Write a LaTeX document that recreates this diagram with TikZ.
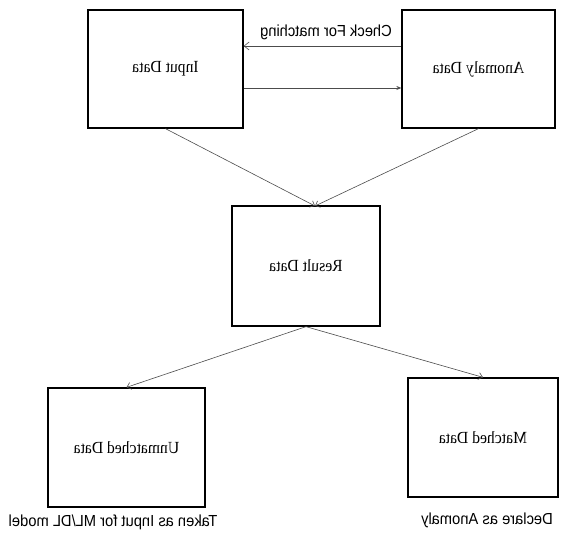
\documentclass[tikz,border=0pt]{standalone}
\usepackage{fontspec}
\usepackage{graphicx}
\setmainfont{Liberation Serif}
\setsansfont{Liberation Sans}
\usetikzlibrary{arrows.meta}
\tikzset{
  box/.style={draw=black, line width=1.3pt, minimum width=#1, inner sep=0pt},
  box/.default=150pt,
  conn/.style={draw=black!70, line width=0.6pt},
  lbl/.style={font=\fontsize{17}{19}\selectfont},
  note/.style={font=\sffamily\fontsize{16}{18}\selectfont, inner sep=0pt},
}
\newcommand{\mir}[1]{\scalebox{-0.92}[1]{#1}}
\newcommand{\mirn}[1]{\scalebox{-0.92}[1]{#1}}
\begin{document}
\begin{tikzpicture}[x=1pt, y=-1pt]
\useasboundingbox (0,0) rectangle (563,534);
\node[box=155pt, minimum height=118pt, lbl] (input) at (165.5,69) {\mir{Input Data}};
\node[box=153pt, minimum height=118pt, lbl] (anom) at (478.5,69) {\mir{Anomaly Data}};
\node[box=148pt, minimum height=120pt, lbl] (result) at (306,266) {\mir{Result Data}};
\node[box=157pt, minimum height=119pt, lbl] (unm) at (126.5,447.5) {\mir{Unmatched Data}};
\node[box=150pt, minimum height=119pt, lbl] (mat) at (483,437.5) {\mir{Matched Data}};
\coordinate (rtop) at (315,206);
\draw[conn, -{Straight Barb[length=5pt,width=8pt]}] (anom.west |- 0,46) -- (input.east |- 0,46);
\draw[conn, -{Stealth[length=5pt,width=4pt]}] (input.east |- 0,88) -- (anom.west |- 0,88);
\draw[conn, -{Straight Barb[length=4pt,width=7pt]}] (input.south) -- (rtop);
\draw[conn, -{Straight Barb[length=4pt,width=7pt]}] (anom.south) -- (rtop);
\draw[conn, -{Straight Barb[length=4pt,width=7pt]}] (result.south) -- (unm.north);
\draw[conn, -{Straight Barb[length=4pt,width=7pt]}] (result.south) -- (mat.north);
\node[note] (chk) at (326,32) {\mirn{Check For matching}};
\node[note] (taken) at (113,522) {\mirn{Taken as Input for ML/DL model}};
\node[note] (decl) at (487,520) {\mirn{Declare as Anomaly}};
\end{tikzpicture}
\end{document}
